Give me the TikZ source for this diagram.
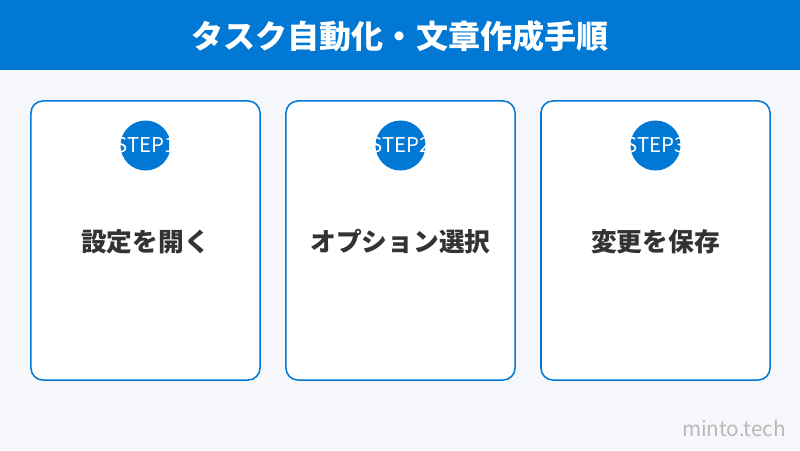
\documentclass[tikz,border=0pt]{standalone}
\usepackage{fontspec}
\setmainfont{Noto Sans CJK JP}
\usepackage{xcolor}
\usepackage{tikz}
\usetikzlibrary{positioning}

\definecolor{hdrblue}{HTML}{0078D4}
\definecolor{pagegray}{HTML}{F5F7FA}
\definecolor{inkgray}{HTML}{333333}
\definecolor{markgray}{HTML}{B8B8B8}

\begin{document}
\begin{tikzpicture}[
    x=0.025cm, y=-0.025cm,
    card/.style={rectangle, draw=hdrblue, line width=1.1pt, fill=white, rounded corners=0.3cm, minimum width=5.725cm, minimum height=6.975cm},
    stepdot/.style={circle, fill=hdrblue, inner sep=+0pt, minimum size=1.25cm},
    steptext/.style={text=white, font=\fontsize{14.5}{16}\selectfont, inner sep=+0pt},
    cardtext/.style={text=inkgray, font=\fontsize{18.3}{20}\selectfont\bfseries}
    ]
\fill[pagegray] (0,0) rectangle (800,450);
\fill[hdrblue] (0,0) rectangle (800,70);
\node[text=white, font=\fontsize{22.8}{25}\selectfont\bfseries] (title) at (400,36) {タスク自動化・文章作成手順};

\node[card]  (card1) at (145.5,240.5) {};
\node[card]  (card2) at (400.5,240.5) {};
\node[card]  (card3) at (655.5,240.5) {};

\node[stepdot]  (dot1) at (145.5,145.5) {};
\node[stepdot]  (dot2) at (400.5,145.5) {};
\node[stepdot]  (dot3) at (655.5,145.5) {};

\node[steptext]  (step1) at (dot1) {STEP1};
\node[steptext]  (step2) at (dot2) {STEP2};
\node[steptext]  (step3) at (dot3) {STEP3};

\node[cardtext]  (label1) at (145.5,242) {設定を開く};
\node[cardtext]  (label2) at (400.5,242) {オプション選択};
\node[cardtext]  (label3) at (655.5,242) {変更を保存};

\node[text=markgray, font=\fontsize{14.7}{16}\selectfont] (mark) at (734,428) {minto.tech};
\end{tikzpicture}
\end{document}
